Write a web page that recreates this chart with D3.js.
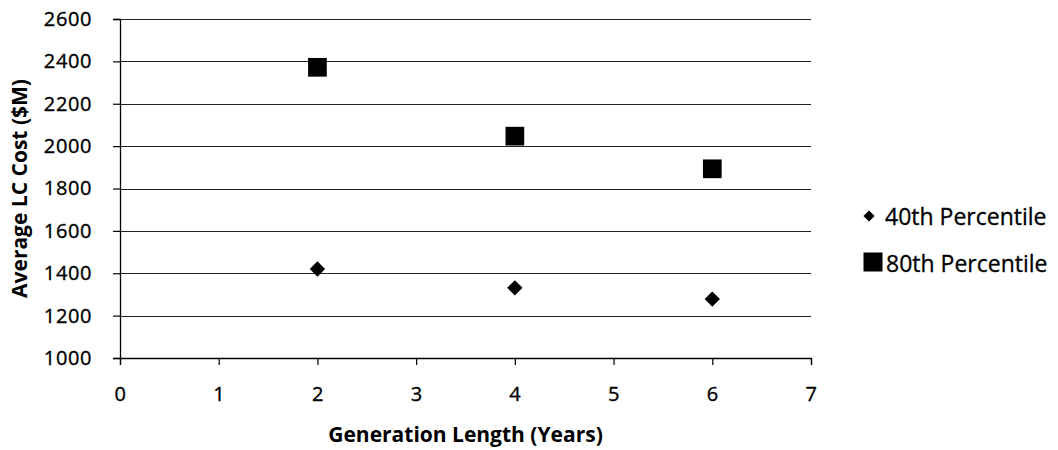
<!DOCTYPE html>
<html>
<head>
<meta charset="utf-8">
<script src="https://cdn.jsdelivr.net/npm/d3@7"></script>
<style>
  html, body { margin: 0; padding: 0; background: #fff; }
  svg { display: block; }
  text { font-family: "Open Sans", "DejaVu Sans", sans-serif; fill: #000; }
</style>
</head>
<body>
<svg id="chart" width="1058" height="450"></svg>
<script>
// Generation length (years) for each scenario
const generationYears = [2, 4, 6];
// Average life-cycle cost ($M) by percentile
const p40Cost = [1420, 1331, 1278];
const p80Cost = [2372, 2047, 1893];
const seriesNames = ["40th Percentile", "80th Percentile"];
const xTicks = [0, 1, 2, 3, 4, 5, 6, 7];
const yTicks = [1000, 1200, 1400, 1600, 1800, 2000, 2200, 2400, 2600];

const svg = d3.select("#chart");
const plot = { left: 120, right: 811, top: 19, bottom: 358 };

const x = d3.scaleLinear().domain([0, 7]).range([plot.left, plot.right]);
const y = d3.scaleLinear().domain([1000, 2600]).range([plot.bottom, plot.top]);

// Horizontal gridlines
svg.append("g")
  .selectAll("line")
  .data(yTicks)
  .join("line")
  .attr("x1", plot.left).attr("x2", plot.right)
  .attr("y1", d => Math.round(y(d)) + 0.5).attr("y2", d => Math.round(y(d)) + 0.5)
  .attr("stroke", "#222").attr("stroke-width", 1.2);

function styleTickText(sel) {
  sel.style("font-size", "20px")
    .style("letter-spacing", "0.6px")
    .style("font-family", "'Open Sans', sans-serif")
    .attr("fill", "#000")
    .attr("stroke", "#000")
    .attr("stroke-width", 0.35);
}

// Y axis
const yAxis = svg.append("g")
  .attr("transform", `translate(${plot.left},0)`)
  .call(d3.axisLeft(y).tickValues(yTicks).tickSize(7).tickPadding(21).tickFormat(d3.format("d")));
yAxis.select(".domain").attr("stroke", "#000").attr("stroke-width", 1.3);
yAxis.selectAll(".tick line").attr("stroke", "#000").attr("stroke-width", 1.2);
yAxis.selectAll(".tick text").call(styleTickText);

// X axis
const xAxis = svg.append("g")
  .attr("transform", `translate(0,${plot.bottom})`)
  .call(d3.axisBottom(x).tickValues(xTicks).tickSize(7).tickPadding(22).tickFormat(d3.format("d")));
xAxis.select(".domain").attr("stroke", "#000").attr("stroke-width", 1.3);
xAxis.selectAll(".tick line").attr("stroke", "#000").attr("stroke-width", 1.2);
xAxis.selectAll(".tick text").call(styleTickText);

// Axis titles
svg.append("text")
  .attr("x", (plot.left + plot.right) / 2)
  .attr("y", 442)
  .attr("text-anchor", "middle")
  .style("font-size", "21px")
  .style("font-weight", "bold")
  .text("Generation Length (Years)");

svg.append("text")
  .attr("transform", `translate(27,${(plot.top + plot.bottom) / 2}) rotate(-90)`)
  .attr("text-anchor", "middle")
  .style("font-size", "21px")
  .style("font-weight", "bold")
  .text("Average LC Cost ($M)");

// Markers
const diamond = d3.symbol().type(d3.symbolDiamond2).size(150);
const square = d3.symbol().type(d3.symbolSquare).size(350);

svg.append("g")
  .selectAll("path")
  .data(generationYears.map((g, i) => ({ g, v: p40Cost[i] })))
  .join("path")
  .attr("d", diamond)
  .attr("transform", d => `translate(${x(d.g)},${y(d.v)})`)
  .attr("fill", "#000");

svg.append("g")
  .selectAll("path")
  .data(generationYears.map((g, i) => ({ g, v: p80Cost[i] })))
  .join("path")
  .attr("d", square)
  .attr("transform", d => `translate(${x(d.g)},${y(d.v)})`)
  .attr("fill", "#000");

// Legend
const legend = svg.append("g");
const legendRows = [
  { name: seriesNames[0], sym: d3.symbol().type(d3.symbolDiamond2).size(80), cx: 869, cy: 216, tx: 885, ty: 225 },
  { name: seriesNames[1], sym: d3.symbol().type(d3.symbolSquare).size(361), cx: 873, cy: 262, tx: 886, ty: 272 }
];
legendRows.forEach(r => {
  legend.append("path")
    .attr("d", r.sym)
    .attr("transform", `translate(${r.cx},${r.cy})`)
    .attr("fill", "#000");
  legend.append("text")
    .attr("x", r.tx)
    .attr("y", r.ty)
    .style("font-size", "23px")
    .attr("stroke", "#000")
    .attr("stroke-width", 0.3)
    .text(r.name);
});
</script>
</body>
</html>
